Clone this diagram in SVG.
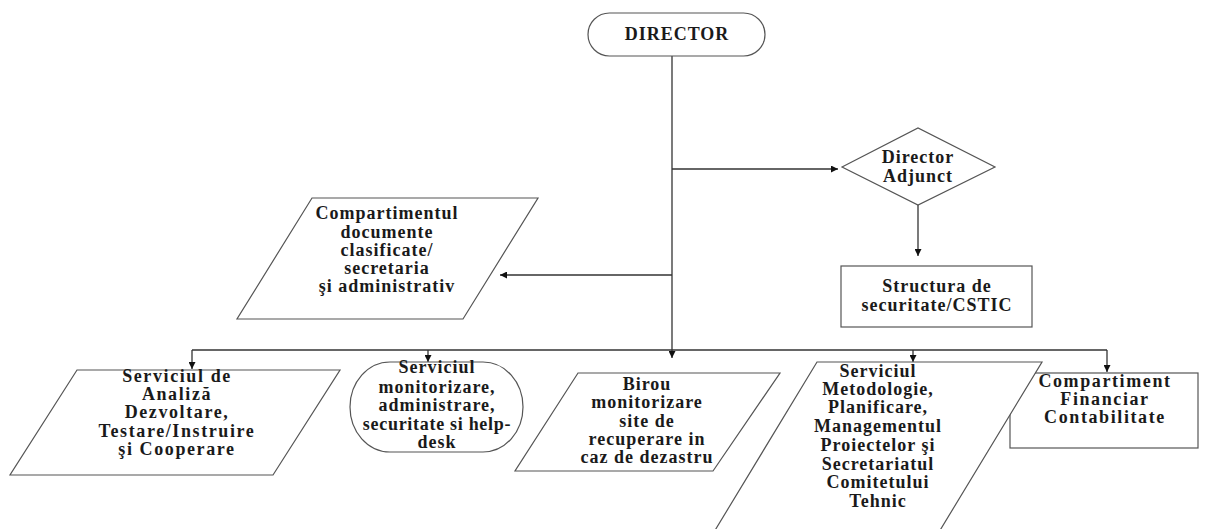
<svg xmlns="http://www.w3.org/2000/svg" width="1213" height="529" viewBox="0 0 1213 529">
<style>
.shape{fill:#fff;stroke:#555;stroke-width:1.2}
.conn{fill:none;stroke:#333;stroke-width:1.3}
text{font-family:"Liberation Serif","Times New Roman",serif;font-weight:bold;font-size:18px;fill:#1a1a1a;text-anchor:middle;letter-spacing:1px}
.wide{letter-spacing:1.6px}
</style>
<defs>
<marker id="ah" viewBox="0 0 10 10" refX="10" refY="5" markerWidth="7" markerHeight="7" markerUnits="userSpaceOnUse" orient="auto">
<path d="M0,0 L10,5 L0,10 z" fill="#111"/>
</marker>
</defs>
<rect width="1213" height="529" fill="#fff"/>
<g id="connectors">
<path class="conn" d="M672,56 V358" marker-end="url(#ah)"/>
<path class="conn" d="M672,169 H838" marker-end="url(#ah)"/>
<path class="conn" d="M672,275 H500" marker-end="url(#ah)"/>
<path class="conn" d="M918,205 V256" marker-end="url(#ah)"/>
<path class="conn" d="M192,350 H1107"/>
<path class="conn" d="M192,350 V369" marker-end="url(#ah)"/>
<path class="conn" d="M428,350 V362" marker-end="url(#ah)"/>
<path class="conn" d="M913,350 V362" marker-end="url(#ah)"/>
<path class="conn" d="M1107,350 V372" marker-end="url(#ah)"/>
</g>
<g id="director">
<rect class="shape" x="588" y="13" width="177" height="43" rx="21.5"/>
<text x="677" y="40">DIRECTOR</text>
</g>
<g id="director-adjunct">
<polygon class="shape" points="842,167 918,128 995,167 918,205"/>
<text x="918" y="163">Director</text>
<text x="918" y="182">Adjunct</text>
</g>
<g id="structura">
<rect class="shape" x="841" y="266" width="191" height="61"/>
<text x="937" y="292">Structura de</text>
<text x="937" y="311">securitate/CSTIC</text>
</g>
<g id="compartimentul-documente">
<polygon class="shape" points="312,198 538,198 463,319 237,319"/>
<text x="387" y="219">Compartimentul</text>
<text x="387" y="237.5">documente</text>
<text x="387" y="256">clasificate/</text>
<text x="387" y="274">secretaria</text>
<text x="387" y="292">şi administrativ</text>
</g>
<g id="serviciul-analiza">
<polygon class="shape" points="77,370 340,370 273,475 10,475"/>
<text class="wide" x="177" y="382">Serviciul de</text>
<text class="wide" x="177" y="400">Analiză</text>
<text class="wide" x="177" y="418">Dezvoltare,</text>
<text class="wide" x="177" y="437">Testare/Instruire</text>
<text class="wide" x="177" y="455">şi Cooperare</text>
</g>
<g id="serviciul-monitorizare">
<rect class="shape" x="350" y="362" width="173" height="90" rx="40" ry="45"/>
<text x="437" y="373">Serviciul</text>
<text x="437" y="393">monitorizare,</text>
<text x="437" y="411">administrare,</text>
<text x="437" y="430" style="letter-spacing:0.7px">securitate si help-</text>
<text x="437" y="448">desk</text>
</g>
<g id="birou">
<polygon class="shape" points="578,373 780,373 713,471 515,471"/>
<text x="647" y="390">Birou</text>
<text x="647" y="408">monitorizare</text>
<text x="647" y="427">site de</text>
<text x="647" y="445">recuperare in</text>
<text x="647" y="463">caz de dezastru</text>
</g>
<g id="compartiment-financiar">
<rect class="shape" x="1010" y="373" width="188" height="75"/>
</g>
<g id="serviciul-metodologie">
<polygon class="shape" points="817,362 1042,362 939,532 714,532"/>
<text x="878" y="377">Serviciul</text>
<text x="878" y="395">Metodologie,</text>
<text x="878" y="413">Planificare,</text>
<text x="878" y="432">Managementul</text>
<text x="878" y="451">Proiectelor şi</text>
<text x="878" y="470">Secretariatul</text>
<text x="878" y="488">Comitetului</text>
<text x="878" y="507">Tehnic</text>
</g>
<g id="compartiment-financiar-text">
<text class="wide" x="1105" y="387">Compartiment</text>
<text class="wide" x="1105" y="405">Financiar</text>
<text class="wide" x="1105" y="423">Contabilitate</text>
</g>
</svg>
